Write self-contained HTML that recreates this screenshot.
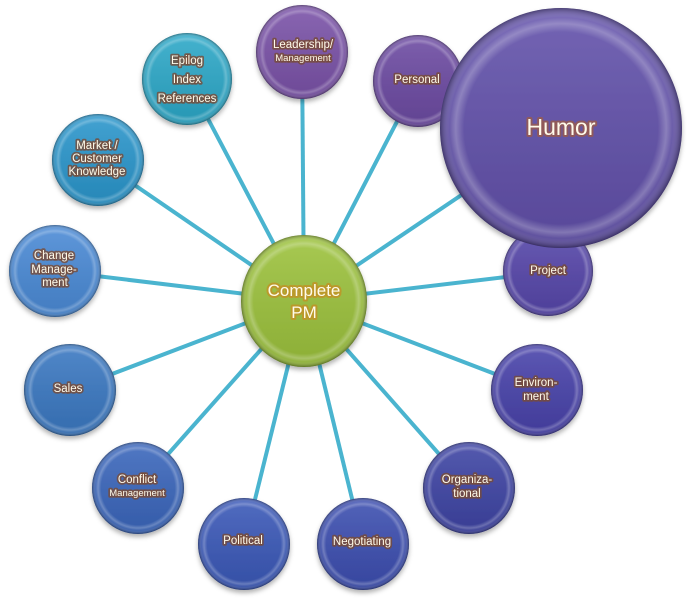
<!DOCTYPE html>
<html><head><meta charset="utf-8"><style>
html,body{margin:0;padding:0;background:#fff;}
svg{display:block}
text{font-family:"Liberation Sans","DejaVu Sans",sans-serif;fill:#fffbea;text-anchor:middle;paint-order:stroke;stroke-linejoin:round;}
.t{font-size:11.5px;stroke:rgba(120,75,55,0.8);stroke-width:3.5px;}
.s{font-size:9.5px;stroke:rgba(120,75,55,0.8);stroke-width:3.5px;}
</style></head><body>
<svg width="690" height="600" viewBox="0 0 690 600" xmlns="http://www.w3.org/2000/svg">
<defs>
<filter id="sh" x="-20%" y="-20%" width="140%" height="150%"><feDropShadow dx="0" dy="3" stdDeviation="2.5" flood-color="#000" flood-opacity="0.3"/></filter>
<radialGradient id="hl" cx="50%" cy="50%" r="50%">
<stop offset="0.8" stop-color="#fff" stop-opacity="0"/>
<stop offset="0.87" stop-color="#fff" stop-opacity="0.25"/>
<stop offset="0.92" stop-color="#fff" stop-opacity="0.05"/>
<stop offset="1" stop-color="#000" stop-opacity="0.35"/>
</radialGradient>
<linearGradient id="top" x1="0" y1="0" x2="0" y2="1">
<stop offset="0" stop-color="#fff" stop-opacity="0.12"/>
<stop offset="1" stop-color="#000" stop-opacity="0.1"/>
</linearGradient>
</defs>
<g stroke="#4ab4cf" stroke-width="4">
<line x1="304" y1="301" x2="302" y2="52"/>
<line x1="304" y1="301" x2="418" y2="81"/>
<line x1="304" y1="301" x2="561" y2="128"/>
<line x1="304" y1="301" x2="548" y2="272"/>
<line x1="304" y1="301" x2="537" y2="390"/>
<line x1="304" y1="301" x2="469" y2="488"/>
<line x1="304" y1="301" x2="363" y2="544"/>
<line x1="304" y1="301" x2="244" y2="544"/>
<line x1="304" y1="301" x2="138" y2="488"/>
<line x1="304" y1="301" x2="70" y2="390"/>
<line x1="304" y1="301" x2="55" y2="271"/>
<line x1="304" y1="301" x2="98" y2="160"/>
<line x1="304" y1="301" x2="187" y2="79"/>
</g>
<g filter="url(#sh)">
<g><ellipse cx="302" cy="52" rx="46" ry="47" fill="#7a52a8"/><ellipse cx="302" cy="52" rx="46" ry="47" fill="url(#top)"/><ellipse cx="302" cy="52" rx="46" ry="47" fill="url(#hl)"/></g>
<g><ellipse cx="187" cy="79" rx="45" ry="46" fill="#2ca8c8"/><ellipse cx="187" cy="79" rx="45" ry="46" fill="url(#top)"/><ellipse cx="187" cy="79" rx="45" ry="46" fill="url(#hl)"/></g>
<g><ellipse cx="98" cy="160" rx="46" ry="46" fill="#2a96cc"/><ellipse cx="98" cy="160" rx="46" ry="46" fill="url(#top)"/><ellipse cx="98" cy="160" rx="46" ry="46" fill="url(#hl)"/></g>
<g><ellipse cx="55" cy="271" rx="46" ry="46" fill="#4a8ad6"/><ellipse cx="55" cy="271" rx="46" ry="46" fill="url(#top)"/><ellipse cx="55" cy="271" rx="46" ry="46" fill="url(#hl)"/></g>
<g><ellipse cx="70" cy="390" rx="46" ry="46" fill="#3a78c2"/><ellipse cx="70" cy="390" rx="46" ry="46" fill="url(#top)"/><ellipse cx="70" cy="390" rx="46" ry="46" fill="url(#hl)"/></g>
<g><ellipse cx="138" cy="488" rx="46" ry="46" fill="#3a66bc"/><ellipse cx="138" cy="488" rx="46" ry="46" fill="url(#top)"/><ellipse cx="138" cy="488" rx="46" ry="46" fill="url(#hl)"/></g>
<g><ellipse cx="244" cy="544" rx="46" ry="46" fill="#3a58b8"/><ellipse cx="244" cy="544" rx="46" ry="46" fill="url(#top)"/><ellipse cx="244" cy="544" rx="46" ry="46" fill="url(#hl)"/></g>
<g><ellipse cx="363" cy="544" rx="46" ry="46" fill="#3c4eb0"/><ellipse cx="363" cy="544" rx="46" ry="46" fill="url(#top)"/><ellipse cx="363" cy="544" rx="46" ry="46" fill="url(#hl)"/></g>
<g><ellipse cx="469" cy="488" rx="46" ry="46" fill="#3e44a4"/><ellipse cx="469" cy="488" rx="46" ry="46" fill="url(#top)"/><ellipse cx="469" cy="488" rx="46" ry="46" fill="url(#hl)"/></g>
<g><ellipse cx="537" cy="390" rx="46" ry="46" fill="#4842aa"/><ellipse cx="537" cy="390" rx="46" ry="46" fill="url(#top)"/><ellipse cx="537" cy="390" rx="46" ry="46" fill="url(#hl)"/></g>
<g><ellipse cx="548" cy="271" rx="45" ry="45" fill="#5646aa"/><ellipse cx="548" cy="271" rx="45" ry="45" fill="url(#top)"/><ellipse cx="548" cy="271" rx="45" ry="45" fill="url(#hl)"/></g>
<g><ellipse cx="418" cy="81" rx="45" ry="46" fill="#6c4aa2"/><ellipse cx="418" cy="81" rx="45" ry="46" fill="url(#top)"/><ellipse cx="418" cy="81" rx="45" ry="46" fill="url(#hl)"/></g>
<g><ellipse cx="561" cy="128" rx="121" ry="120" fill="#6150aa"/><ellipse cx="561" cy="128" rx="121" ry="120" fill="url(#top)"/><ellipse cx="561" cy="128" rx="121" ry="120" fill="url(#hl)"/></g>
<g><ellipse cx="304" cy="301" rx="63" ry="66" fill="#9cc23c"/><ellipse cx="304" cy="301" rx="63" ry="66" fill="url(#top)"/><ellipse cx="304" cy="301" rx="63" ry="66" fill="url(#hl)"/></g>
</g>
<text x="304" y="296" style="font-size:17px;stroke:rgba(190,150,40,0.9);stroke-width:4px">Complete</text>
<text x="304" y="318" style="font-size:17px;stroke:rgba(190,150,40,0.9);stroke-width:4px">PM</text>
<text x="561" y="135" style="font-size:23px;stroke:rgba(150,90,80,0.85);stroke-width:4px">Humor</text>
<text class="t" x="303" y="48">Leadership/</text>
<text class="s" x="303" y="61">Management</text>
<text class="t" x="187" y="64">Epilog</text>
<text class="t" x="187" y="83">Index</text>
<text class="t" x="187" y="102">References</text>
<text class="t" x="97" y="149">Market /</text>
<text class="t" x="97" y="162">Customer</text>
<text class="t" x="97" y="175">Knowledge</text>
<text class="t" x="54" y="259">Change</text>
<text class="t" x="54" y="273">Manage-</text>
<text class="t" x="55" y="286">ment</text>
<text class="t" x="68" y="392">Sales</text>
<text class="t" x="137" y="483">Conflict</text>
<text class="s" x="137" y="496">Management</text>
<text class="t" x="243" y="544">Political</text>
<text class="t" x="362" y="545">Negotiating</text>
<text class="t" x="467" y="483">Organiza-</text>
<text class="t" x="467" y="497">tional</text>
<text class="t" x="536" y="386">Environ-</text>
<text class="t" x="536" y="400">ment</text>
<text class="t" x="548" y="274">Project</text>
<text class="t" x="417" y="83">Personal</text>
</svg>
</body></html>
